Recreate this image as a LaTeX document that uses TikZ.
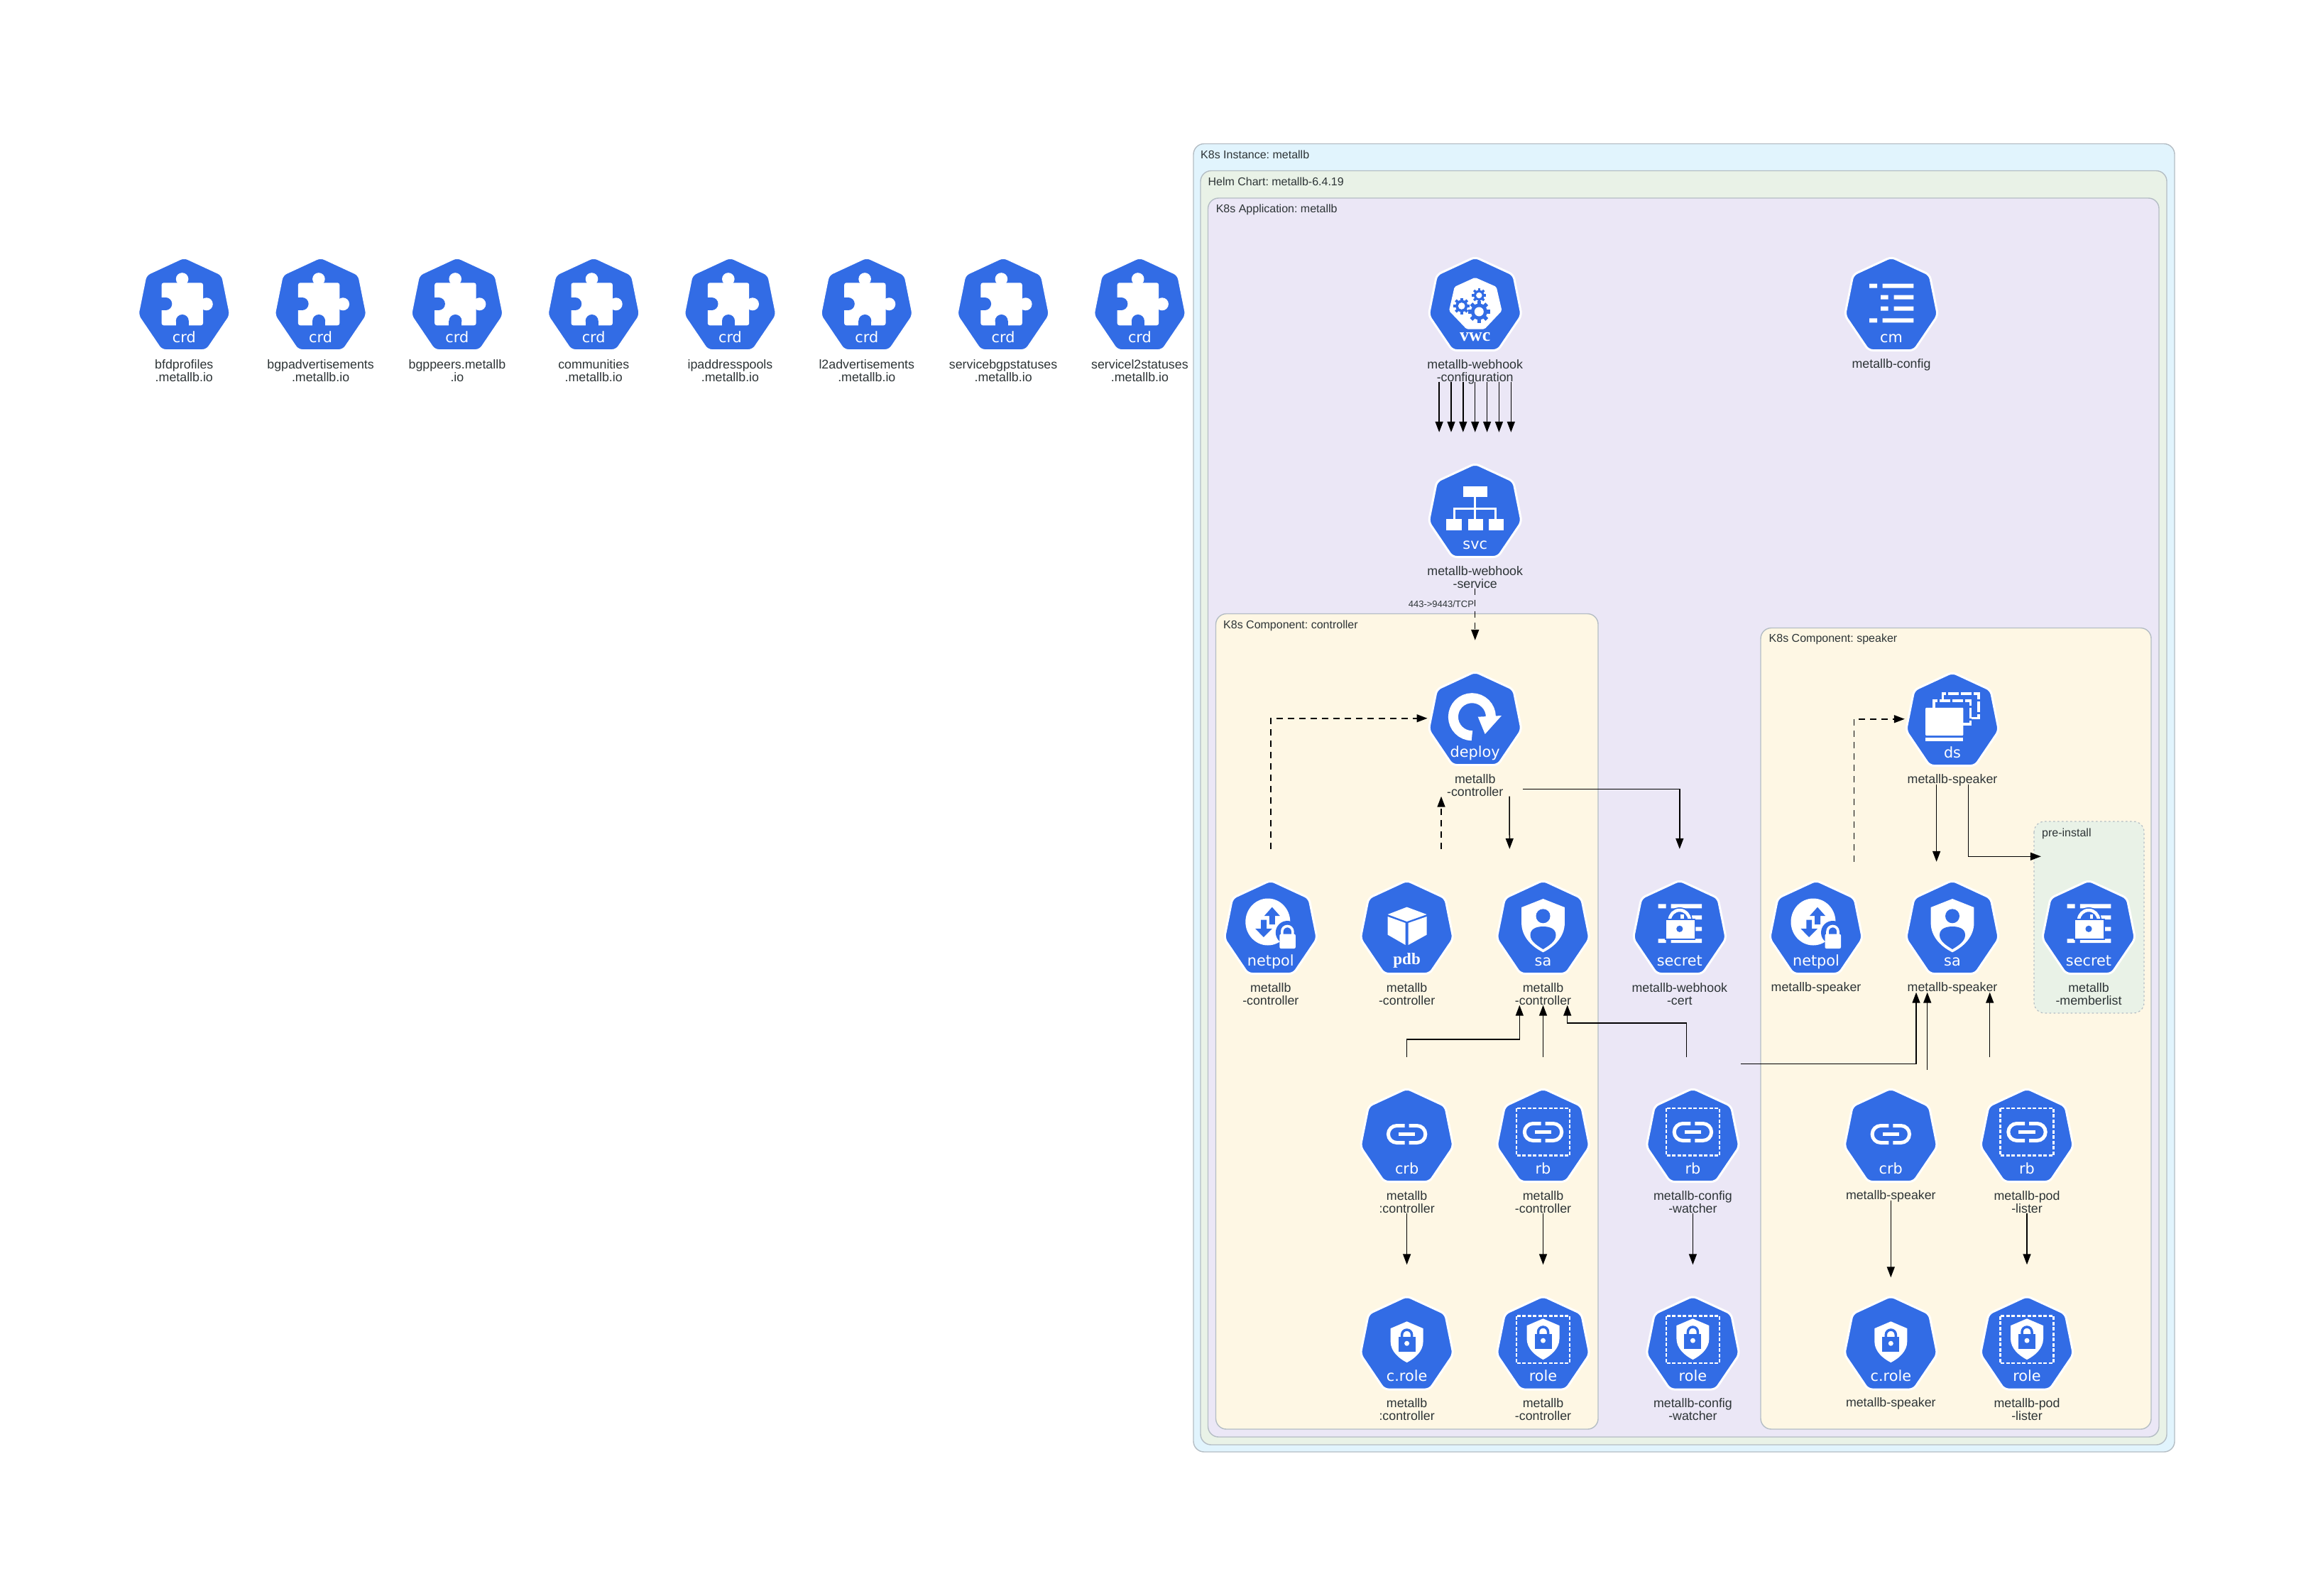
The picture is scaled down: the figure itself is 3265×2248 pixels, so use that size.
\documentclass[tikz,border=0pt]{standalone}
\usepackage{fontspec}
\usetikzlibrary{arrows.meta,calc}
\newfontfamily\lblfont{Liberation Sans}
\newfontfamily\kindfont{DejaVu Sans}
\newfontfamily\kindserif{Liberation Serif}
\definecolor{kblue}{HTML}{326CE5}
\definecolor{ktext}{HTML}{2D3436}
\definecolor{kborder}{HTML}{B4BDC4}
\definecolor{cinst}{HTML}{E1F4FD}
\definecolor{chelm}{HTML}{E9F2E7}
\definecolor{capp}{HTML}{EBE7F6}
\definecolor{ccomp}{HTML}{FEF7E4}
\tikzset{
  x=1pt,y=-1pt,
  cluster/.style={draw=kborder,line width=1.4pt,rounded corners=15pt},
  ctitle/.style={anchor=base west,inner sep=0pt,text=ktext,font=\lblfont\frenchspacing\fontsize{16}{18}\selectfont},
  resbox/.style={inner sep=0pt,minimum width=134pt,draw=none,fill=none},
  reslabel/.style={anchor=north,inner sep=0pt,align=center,text=ktext,font=\lblfont\fontsize{17.8}{18}\selectfont},
  kindtext/.style={anchor=base,inner sep=0pt,text=white,font=\kindfont\fontsize{20.8}{22}\selectfont},
  kindbold/.style={anchor=base,inner sep=0pt,text=white},
  edge/.style={draw=black,line width=1.5pt,-{Triangle[length=15pt,width=11pt]}},
  dashedge/.style={edge,dash pattern=on 9pt off 7pt},
  edgelabel/.style={inner sep=0pt,text=ktext,font=\lblfont\fontsize{13}{14}\selectfont},
  gw/.style={fill=white,draw=none},
  gb/.style={fill=kblue,draw=none},
}
% heptagon body
\newcommand{\hepta}{\draw[fill=kblue,draw=white,line width=3pt,rounded corners=6pt]
  (0,-2)--(54,23)--(65.5,80)--(32,129.5)--(-32,129.5)--(-65.5,80)--(-54,23)--cycle;}
% resource: name, x, top, lines, kind text, label, glyph
\newcommand{\kres}[7]{%
  \begin{scope}[shift={(#2,#3)}]
    \hepta #7
    \node[kindtext] at (0,118) {#5};
  \end{scope}
  \ifnum#4=1
    \node[resbox,minimum height=183.5pt] (#1) at (#2,{#3+63.75}) {};
    \node[reslabel] (#1-label) at (#2,{#3+141}) {\rule{0pt}{13pt}#6};
  \else
    \node[resbox,minimum height=219.5pt] (#1) at (#2,{#3+63.75}) {};
    \node[reslabel] (#1-label) at (#2,{#3+142}) {\rule{0pt}{13pt}#6};
  \fi}
\newcommand{\gcrd}{%
  \fill[gw,rounded corners=3pt] (-31.7,34.3) rectangle (26.7,94.3);
  \fill[gw] (-2.7,29) circle[radius=8.8];
  \fill[gw] (31.5,64.3) circle[radius=9];
  \fill[gb] (-26,64) circle[radius=9];
  \fill[gb] (-33,55) rectangle (-26,73);
  \fill[gb] (-2.5,88) circle[radius=9];
  \fill[gb] (-11.5,88) rectangle (6.5,95);}
\newcommand{\onegear}[3]{%
  \begin{scope}[shift={(#1,#2)}]
    \fill[gb] (0,0) circle[radius=#3*0.74];
    \foreach \a in {0,45,...,315}
      \fill[gb,rotate=\a] ({-#3*0.17},{#3*0.6}) rectangle ({#3*0.17},{#3});
    \fill[gw] (0,0) circle[radius=#3*0.42];
  \end{scope}}
\newcommand{\gvwc}{%
  \fill[gw,rounded corners=2pt] (0,26.8)--(30,40)--(37.8,73.7)--(13.3,99.6)--(-12,99.6)--(-36.7,73.7)--(-29,40)--cycle;
  \onegear{5.6}{52}{10}\onegear{-19}{67}{11.5}\onegear{5.6}{75}{15.5}}
\newcommand{\gsvc}{%
  \fill[gw] (-17,29.5) rectangle (17,45);
  \fill[gw] (-40.3,75.9) rectangle (-18.4,92);
  \fill[gw] (-10.2,75.9) rectangle (11.2,92);
  \fill[gw] (18.9,75.9) rectangle (40.3,92);
  \draw[white,line width=3.2pt] (0,45)--(0,76) (-29,76)--(-29,61.6)--(29,61.6)--(29,76);}
\newcommand{\gcm}{%
  \fill[gw] (-31,35.7) rectangle (-20,41.7) (-12.3,35.7) rectangle (31.3,41.7)
    (-15,51.7) rectangle (-4.3,57.7) (3.7,51.7) rectangle (31.3,57.7)
    (-15,67.7) rectangle (-4.3,73.7) (3.7,67.7) rectangle (31.3,73.7)
    (-31,84.3) rectangle (-20,90.3) (-12.3,84.3) rectangle (31.3,90.3);}
\newcommand{\gdeploy}{%
  \draw[white,line width=14pt] (-4.3,88.2) arc[start angle=90,end angle=360,radius=26.5];
  \fill[gw] (4,61.7)--(37.3,60)--(14,86)--cycle;}
\newcommand{\gds}{%
  \fill[gw,rounded corners=1pt] (-37.8,47.8) rectangle (15.4,87);
  \fill[gw] (-37.8,89.7) rectangle (15.4,95);
  \draw[white,line width=3.2pt,dash pattern=on 15pt off 3pt] (-26.1,47.8)--(-26.1,38)--(25.7,38)--(25.7,71)--(15.4,71);
  \draw[white,line width=3.2pt,dash pattern=on 15pt off 3pt] (-13.7,38)--(-13.7,28)--(37,28)--(37,62.5)--(25.7,62.5);}
\newcommand{\gsa}{%
  \fill[gw] (0,24)--(30.4,36)--(30.4,58) .. controls (30.4,78) and (15,92) .. (0,99.3)
    .. controls (-15,92) and (-30.4,78) .. (-30.4,58)--(-30.4,36)--cycle;
  \fill[gb] (0,48.3) circle[radius=10];
  \fill[gb] (-18,75) .. controls (-18,66) and (-9,63) .. (0,63) .. controls (9,63) and (18,66) .. (18,75)
    .. controls (18,84) and (8,90) .. (0,95) .. controls (-8,90) and (-18,84) .. (-18,75)--cycle;}
\newcommand{\gnetpol}{%
  \fill[gw] (-4,56.5) ellipse[x radius=31.5,y radius=33];
  \fill[gb] (2,35.7)--(13,48)--(6,48)--(6,60)--(-2,60)--(-2,48)--(-9,48)--cycle;
  \fill[gb] (-10,78)--(2,66)--(-5.8,66)--(-5.8,53.6)--(-13.7,53.6)--(-13.7,66)--(-21.6,66)--cycle;
  \fill[gb] (23.5,71.5) circle[radius=16.5];
  \draw[white,line width=3.6pt] (16,74)--(16,70) arc[start angle=180,end angle=360,radius=7.5]--(31,74);
  \fill[gw,rounded corners=2pt] (12.5,73.7) rectangle (35,94);}
\newcommand{\gsecret}{%
  \begin{scope}[yshift=2pt]
  \fill[gw] (-30.3,33.3) rectangle (-19.3,39.3) (-12.1,33.3) rectangle (31.4,39.3)
    (-30.3,82.3) rectangle (-19.3,88) (-12.1,82.3) rectangle (31.4,88)
    (17.1,49.3) rectangle (31.4,55) (22.5,65.7) rectangle (31.4,71.3);
  \draw[kblue,line width=8pt] (-14,56) arc[start angle=180,end angle=360,radius=14];
  \draw[white,line width=4.5pt] (-14,56) arc[start angle=180,end angle=360,radius=14];
  \fill[gw] (1.5,47.5) rectangle (6,55);
  \fill[gb] (-21,54) rectangle (22.5,83.5);
  \fill[gw] (-19.3,55.7) rectangle (20.7,81.7);
  \fill[gb] (0,68.3) circle[radius=4.6];
  \end{scope}}
\newcommand{\gpdb}{%
  \fill[gw] (0,35.6)--(28,46)--(0,56)--(-27,46)--cycle;
  \fill[gw] (-27,49)--(-2,58)--(-2,89)--(-27,74.6)--cycle;
  \fill[gw] (2,58)--(28,49)--(28,74.6)--(2,89)--cycle;}
\newcommand{\glink}[1]{%
  \draw[white,line width=5pt] (-3,{#1-12})--(-14.2,{#1-12}) arc[start angle=270,end angle=90,radius=12]--(-3,{#1+12});
  \draw[white,line width=5pt] (3,{#1-12})--(14.2,{#1-12}) arc[start angle=270,end angle=450,radius=12]--(3,{#1+12});
  \fill[gw] (-11.7,{#1-2.7}) rectangle (11.7,{#1+2.7});}
\newcommand{\gdashrect}{\draw[white,line width=2.5pt,dash pattern=on 5pt off 2.5pt] (-37.5,26) rectangle (37.5,92.7);}
\newcommand{\gshield}[1]{%
  \begin{scope}[yshift=#1pt]
  \fill[gw] (0,33.8)--(23,43.6)--(23,62) .. controls (23,76) and (11,86) .. (0,91.6)
    .. controls (-11,86) and (-23,76) .. (-23,62)--(-23,43.6)--cycle;
  \draw[kblue,line width=3.5pt] (-7,56)--(-7,52.5) arc[start angle=180,end angle=360,radius=7]--(7,56);
  \fill[gb] (-12,55.6) rectangle (12,76.4);
  \fill[gw] (0,64.7) circle[radius=3.5];
  \end{scope}}
\newcommand{\gcrb}{\glink{62.5}}
\newcommand{\grb}{\gdashrect\glink{59.5}}
\newcommand{\gcrole}{\gshield{0}}
\newcommand{\grole}{\gdashrect\gshield{4}}
\begin{document}
\begin{tikzpicture}
\useasboundingbox (0,0) rectangle (3265,2248);
\fill[white] (0,0) rectangle (3265,2248);
% clusters
\draw[cluster,fill=cinst] (1681,202.5) rectangle (3063,2045);
\draw[cluster,fill=chelm] (1691,240.5) rectangle (3052,2035);
\draw[cluster,fill=capp] (1701.5,279) rectangle (3041,2024);
\draw[cluster,fill=ccomp] (1712.5,864.5) rectangle (2251,2013);
\draw[cluster,fill=ccomp] (2480,884.5) rectangle (3030,2013);
\draw[draw=kborder,fill=chelm,line width=1.2pt,dash pattern=on 2.5pt off 3.5pt,rounded corners=15pt] (2865,1157) rectangle (3020,1427);
\node[ctitle] (t-inst) at (1691,223.5) {K8s Instance: metallb};
\node[ctitle] (t-helm) at (1701.4,261.3) {Helm Chart: metallb-6.4.19};
\node[ctitle] (t-app) at (1712.6,299.3) {K8s Application: metallb};
\node[ctitle] (t-ctrl) at (1723,885.7) {K8s Component: controller};
\node[ctitle] (t-spk) at (2491.5,904.4) {K8s Component: speaker};
\node[ctitle] (t-pre) at (2876,1178.7) {pre-install};
% CRDs
\kres{crda}{259.3}{364}{2}{crd}{bfdprofiles\\.metallb.io}{\gcrd}
\kres{crdb}{451.6}{364}{2}{crd}{bgpadvertisements\\.metallb.io}{\gcrd}
\kres{crdc}{643.9}{364}{2}{crd}{bgppeers.metallb\\.io}{\gcrd}
\kres{crdd}{836.2}{364}{2}{crd}{communities\\.metallb.io}{\gcrd}
\kres{crde}{1028.5}{364}{2}{crd}{ipaddresspools\\.metallb.io}{\gcrd}
\kres{crdf}{1220.8}{364}{2}{crd}{l2advertisements\\.metallb.io}{\gcrd}
\kres{crdg}{1413.1}{364}{2}{crd}{servicebgpstatuses\\.metallb.io}{\gcrd}
\kres{crdh}{1605.4}{364}{2}{crd}{servicel2statuses\\.metallb.io}{\gcrd}
% application
\kres{vwc}{2077.7}{364}{2}{}{metallb-webhook\\-configuration}{\gvwc}
\node[kindbold,font=\kindserif\bfseries\fontsize{25.8}{26}\selectfont] (vwc-kind) at (2077.7,480) {vwc};
\kres{cm}{2664}{364}{1}{cm}{metallb-config}{\gcm}
\kres{svc}{2077.7}{655}{2}{svc}{metallb-webhook\\-service}{\gsvc}
\kres{deploy}{2077.7}{948}{2}{deploy}{metallb\\-controller}{\gdeploy}
\kres{npc}{1789.8}{1242}{2}{netpol}{metallb\\-controller}{\gnetpol}
\kres{pdb}{1981.6}{1242}{2}{}{metallb\\-controller}{\gpdb}
\node[kindbold,font=\kindserif\bfseries\fontsize{23}{24}\selectfont] (pdb-kind) at (1981.6,1358.5) {pdb};
\kres{sac}{2173.5}{1242}{2}{sa}{metallb\\-controller}{\gsa}
\kres{secw}{2365.8}{1242}{2}{secret}{metallb-webhook\\-cert}{\gsecret}
\kres{crbc}{1981.6}{1535}{2}{crb}{metallb\\:controller}{\gcrb}
\kres{rbc}{2173.5}{1535}{2}{rb}{metallb\\-controller}{\grb}
\kres{rbw}{2384.4}{1535}{2}{rb}{metallb-config\\-watcher}{\grb}
\kres{crolec}{1981.6}{1827.5}{2}{c.role}{metallb\\:controller}{\gcrole}
\kres{rolec}{2173.5}{1827.5}{2}{role}{metallb\\-controller}{\grole}
\kres{rolew}{2384.4}{1827.5}{2}{role}{metallb-config\\-watcher}{\grole}
% speaker
\kres{ds}{2750}{949}{1}{ds}{metallb-speaker}{\gds}
\kres{nps}{2558}{1242}{1}{netpol}{metallb-speaker}{\gnetpol}
\kres{sas}{2750}{1242}{1}{sa}{metallb-speaker}{\gsa}
\kres{secm}{2942}{1242}{2}{secret}{metallb\\-memberlist}{\gsecret}
\kres{crbs}{2663.3}{1535}{1}{crb}{metallb-speaker}{\gcrb}
\kres{rbp}{2855}{1535}{2}{rb}{metallb-pod\\-lister}{\grb}
\kres{croles}{2663.3}{1827.5}{1}{c.role}{metallb-speaker}{\gcrole}
\kres{rolep}{2855}{1827.5}{2}{role}{metallb-pod\\-lister}{\grole}
% connectors
\foreach \d in {-50.6,-33.7,-16.9,0,16.9,33.7,50.6}
  \draw[edge] ($(vwc.south)+(\d,0)$) -- ($(svc.north)+(\d,0)$);
\draw[dashedge] (svc.south) -- node[pos=0.3,anchor=east,edgelabel,xshift=-1pt] (port) {443->9443/TCP} (deploy.north);
\draw[dashedge] (npc.north) |- (deploy.west);
\draw[dashedge] ($(pdb.north)+(48.4,0)$) -- ($(deploy.south)+(-47.7,0)$);
\draw[edge] ($(deploy.south)+(48.3,0)$) -- ($(sac.north)+(-47.2,0)$);
\draw[edge] ($(deploy.south east)+(0,-10)$) -| (secw.north);
\draw[edge] (crbc.north) |- ($(sac.south)+(-33.2,48.5)$) -- ($(sac.south)+(-33.2,0)$);
\draw[edge] (rbc.north) -- (sac.south);
\draw[edge] ($(rbw.north)+(-8.9,0)$) |- ($(sac.south)+(34.2,25.5)$) -- ($(sac.south)+(34.2,0)$);
\draw[edge] (crbc.south) -- (crolec.north);
\draw[edge] (rbc.south) -- (rolec.north);
\draw[edge] (rbw.south) -- (rolew.north);
\draw[edge] ($(rbw.north east)+(0,9.5)$) -| ($(sas.south)+(-51,0)$);
\draw[edge] ($(crbs.north)+(51.4,0)$) -- ($(sas.south)+(-35.3,0)$);
\draw[edge] ($(rbp.north)+(-52.3,0)$) -- ($(sas.south)+(52.7,0)$);
\draw[dashedge] ($(nps.north)+(53.4,0)$) |- (ds.west);
\draw[edge] ($(ds.south)+(-22.4,0)$) -- ($(sas.north)+(-22.4,0)$);
\draw[edge] ($(ds.south)+(22.4,0)$) |- ($(secm.north west)+(0,10.5)$);
\draw[edge] (crbs.south) -- (croles.north);
\draw[edge] (rbp.south) -- (rolep.north);
\end{tikzpicture}
\end{document}
